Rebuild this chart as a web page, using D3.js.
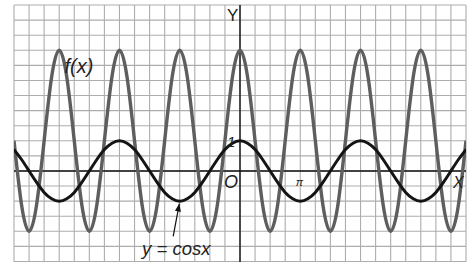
<!DOCTYPE html>
<html><head><meta charset="utf-8">
<script src="https://cdn.jsdelivr.net/npm/d3@7"></script>
<style>html,body{margin:0;padding:0;background:#fff;}svg{display:block;}</style>
</head><body>
<script>
// x sample positions in units of π/8
const xUnits = [-30,-29,-28,-27,-26,-25,-24,-23,-22,-21,-20,-19,-18,-17,-16,-15,-14,-13,-12,-11,-10,-9,-8,-7,-6,-5,-4,-3,-2,-1,0,1,2,3,4,5,6,7,8,9,10,11,12,13,14,15,16,17,18,19,20,21,22,23,24,25,26,27,28,29,30];
// f(x) values
const fVals = [1,-1.12,-2,-1.12,1,3.12,4,3.12, 1,-1.12,-2,-1.12,1,3.12,4,3.12, 1,-1.12,-2,-1.12,1,3.12,4,3.12, 1,-1.12,-2,-1.12,1,3.12,4,3.12, 1,-1.12,-2,-1.12,1,3.12,4,3.12, 1,-1.12,-2,-1.12,1,3.12,4,3.12, 1,-1.12,-2,-1.12,1,3.12,4,3.12, 1,-1.12,-2,-1.12,1];
// y = cos x values
const cosVals = [.71,.38,0,-.38,-.71,-.92,-1,-.92,-.71,-.38,0,.38,.71,.92,1,.92, .71,.38,0,-.38,-.71,-.92,-1,-.92,-.71,-.38,0,.38,.71,.92,1,.92, .71,.38,0,-.38,-.71,-.92,-1,-.92,-.71,-.38,0,.38,.71,.92,1,.92, .71,.38,0,-.38,-.71,-.92,-1,-.92,-.71,-.38,0,.38,.71];
// grid: vertical lines every π/4 (units of π/8), horizontal every 0.5
const gridX = [-30,-28,-26,-24,-22,-20,-18,-16,-14,-12,-10,-8,-6,-4,-2,0,2,4,6,8,10,12,14,16,18,20,22,24,26,28,30];
const gridY = [-3,-2.5,-2,-1.5,-1,-0.5,0,0.5,1,1.5,2,2.5,3,3.5,4,4.5,5,5.5];
const labels = {y:"Y", x:"X", o:"O", one:"1", f:"f(x)", cos:"y = cosx", pi:"π"};

const W = 467, H = 262;
const svg = d3.select("body").append("svg").attr("width", W).attr("height", H);

const x = d3.scaleLinear().domain([-30, 30]).range([14, 466]);
const y = d3.scaleLinear().domain([-3, 5.5]).range([261.5, 5]);

svg.append("defs").append("clipPath").attr("id","clip")
  .append("rect").attr("x",14).attr("y",5).attr("width",452).attr("height",257);

const g = svg.append("g");
g.selectAll(".gx").data(gridX).join("line")
  .attr("x1", d=>x(d)).attr("x2", d=>x(d)).attr("y1", y(5.5)).attr("y2", H)
  .attr("stroke", "#adadad").attr("stroke-width", 1.1);
g.selectAll(".gy").data(gridY).join("line")
  .attr("x1", x(-30)).attr("x2", x(30)).attr("y1", d=>y(d)).attr("y2", d=>y(d))
  .attr("stroke", "#adadad").attr("stroke-width", 1.1);

// axes
g.append("line").attr("x1", x(-30)).attr("x2", x(30)).attr("y1", y(0)).attr("y2", y(0))
  .attr("stroke", "#111").attr("stroke-width", 1.4);
g.append("line").attr("x1", x(0)).attr("x2", x(0)).attr("y1", y(5.5)).attr("y2", H)
  .attr("stroke", "#111").attr("stroke-width", 1.4);

const line = d3.line().x(d=>x(d[0])).y(d=>y(d[1])).curve(d3.curveNatural);
const cg = svg.append("g").attr("clip-path","url(#clip)");
cg.append("path").datum(xUnits.map((k,i)=>[k, fVals[i]]))
  .attr("d", line).attr("fill","none").attr("stroke","#5e5e5e").attr("stroke-width",3.4);
cg.append("path").datum(xUnits.map((k,i)=>[k, cosVals[i]]))
  .attr("d", line).attr("fill","none").attr("stroke","#141414").attr("stroke-width",3);

// text
const font = "'Liberation Sans', Arial, sans-serif";
function txt(t, px, py, size, italic){
  svg.append("text").attr("x", px).attr("y", py).text(t)
    .attr("font-family", font).attr("font-size", size)
    .attr("font-style", italic ? "italic" : "normal").attr("fill", "#222");
}
txt(labels.y, x(0)-13, y(5.5)+16, 17, false);
txt(labels.o, x(0)-16, y(0)+17, 18, true);
txt(labels.one, x(0)-13, y(1)+6, 15, true);
txt(labels.x, x(30)-13, y(0)+17, 16, true);
txt(labels.f, x(-23.3), y(3.25), 20, true);
txt(labels.cos, x(-13), y(-2.8), 18.5, true);
txt(labels.pi, x(7.4), y(-0.5), 11, true);

// arrow to y = cos x
const tail = [x(-8-0.87), y(-2.17)], tip = [x(-8-0.05), y(-1.08)];
svg.append("line").attr("x1", tail[0]).attr("y1", tail[1]).attr("x2", tip[0]).attr("y2", tip[1])
  .attr("stroke","#111").attr("stroke-width",1.2);
const ang = Math.atan2(tip[1]-tail[1], tip[0]-tail[0]);
const L = 8, Wd = 3;
const bx = tip[0] - L*Math.cos(ang), by = tip[1] - L*Math.sin(ang);
svg.append("path")
  .attr("d", `M${tip[0]},${tip[1]}L${bx + Wd*Math.sin(ang)},${by - Wd*Math.cos(ang)}L${bx - Wd*Math.sin(ang)},${by + Wd*Math.cos(ang)}Z`)
  .attr("fill","#111");
</script>
</body></html>
